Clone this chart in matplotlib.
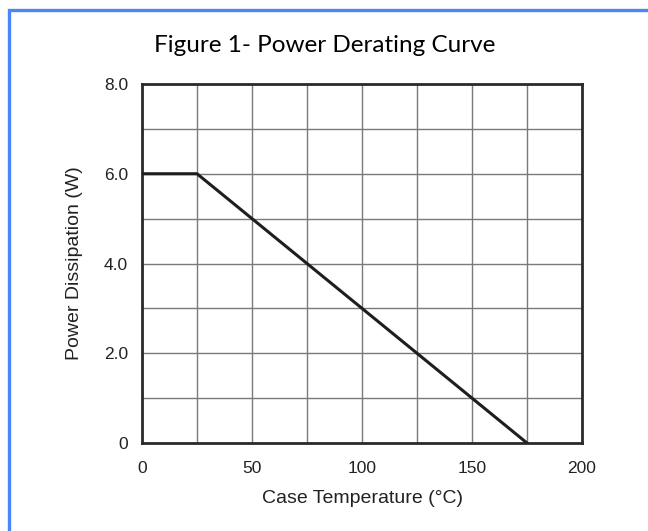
import matplotlib
matplotlib.use("Agg")
import matplotlib.pyplot as plt
from matplotlib.patches import Rectangle
from matplotlib.ticker import MultipleLocator, FixedLocator

# derating curve data
case_temp = [0, 25, 175]
power_w = [6.0, 6.0, 0.0]

x_ticks = [0, 50, 100, 150, 200]
x_tick_labels = ["0", "50", "100", "150", "200"]
y_ticks = [0, 2, 4, 6, 8]
y_tick_labels = ["0", "2.0", "4.0", "6.0", "8.0"]

title = "Figure 1- Power Derating Curve"
x_label = "Case Temperature (°C)"
y_label = "Power Dissipation (W)"

plt.rcParams["font.family"] = ["Liberation Sans", "DejaVu Sans"]

fig = plt.figure(figsize=(6.48, 5.31), dpi=100)
fig.patch.set_facecolor("white")

# blue frame on the left/top edges
frame = Rectangle((8.5 / 648, -0.1), 1.2, 1.1 - 9.5 / 531,
                  transform=fig.transFigure, fill=False,
                  edgecolor="#4a86f7", linewidth=2.4, zorder=0)
fig.patches.append(frame)

ax = fig.add_axes([142 / 648, 1 - 443 / 531, 440 / 648, 359 / 531])

ax.plot(case_temp, power_w, color="#1e1e1e", linewidth=2.2,
        solid_joinstyle="miter", zorder=3)

ax.set_xlim(0, 200)
ax.set_ylim(0, 8)

ax.xaxis.set_major_locator(FixedLocator(x_ticks))
ax.set_xticklabels(x_tick_labels)
ax.yaxis.set_major_locator(FixedLocator(y_ticks))
ax.set_yticklabels(y_tick_labels)
ax.xaxis.set_minor_locator(MultipleLocator(25))
ax.yaxis.set_minor_locator(MultipleLocator(1))

ax.grid(True, which="both", color="#7a7a7a", linewidth=1.0)
ax.set_axisbelow(True)
ax.tick_params(which="both", length=0, labelsize=12.5, labelcolor="#222222")
ax.tick_params(axis="x", pad=13)
ax.tick_params(axis="y", pad=10)

for sp in ax.spines.values():
    sp.set_color("#2a2a2a")
    sp.set_linewidth(2.0)

ax.set_xlabel(x_label, fontsize=14, color="#222222", labelpad=10)
ax.set_ylabel(y_label, fontsize=14, color="#222222", labelpad=15)

fig.text(0.501, 1 - 46 / 531, title, ha="center", va="center",
         fontsize=17.5, family=["Lato", "DejaVu Sans"], color="black")

fig.savefig("out.png", dpi=100)
